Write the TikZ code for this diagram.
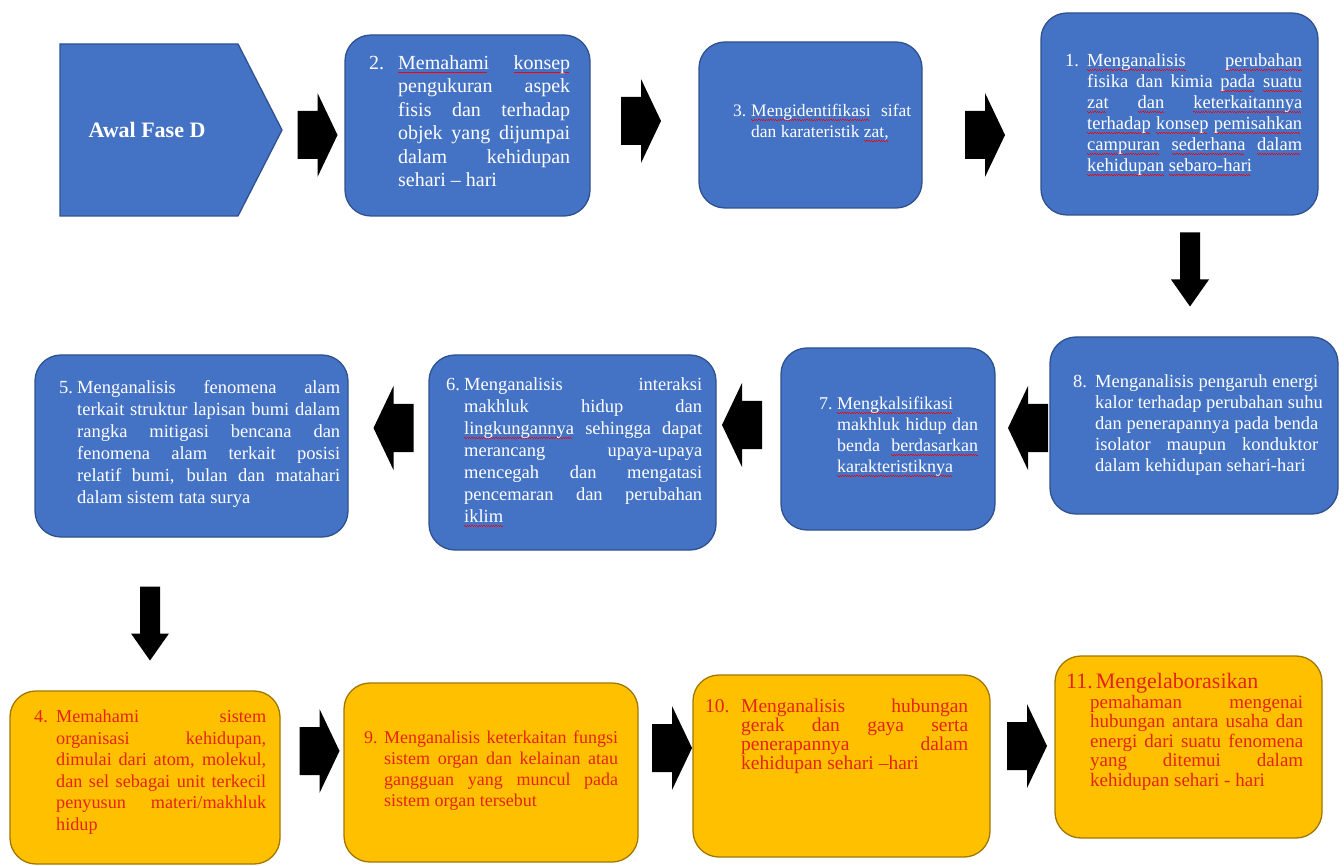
\documentclass[tikz,border=0pt]{standalone}
\usepackage{fontspec}
\setmainfont{Liberation Serif}
\newfontfamily\tnr{Liberation Serif}
\usetikzlibrary{calc}
\definecolor{boxblue}{RGB}{68,114,196}
\definecolor{blueedge}{RGB}{47,82,143}
\definecolor{boxyellow}{RGB}{255,192,0}
\definecolor{yellowedge}{RGB}{160,120,0}
\definecolor{txtred}{RGB}{230,36,12}
\newlength\hangw
\newlength\boxw
\newsavebox\sqbox
\newcommand\sq[1]{\sbox\sqbox{#1}\rlap{\textcolor{red}{\hbox to\wd\sqbox{\leaders\hbox{\rule[-3.4pt]{1.2pt}{0.9pt}\rule[-4.3pt]{1.2pt}{0.9pt}}\hfill}}}\usebox\sqbox}
\newcommand\FL[2]{\hbox to\boxw{\hbox to\hangw{#1\hfil}\spaceskip=.25em plus 1fil\xspaceskip=\spaceskip #2}}
\newcommand\FN[2]{\hbox{\hbox to\hangw{#1\hfil}#2}}
\newcommand\JL[1]{\hbox to\boxw{\hskip\hangw\spaceskip=.25em plus 1fil\xspaceskip=\spaceskip #1}}
\newcommand\LL[1]{\hbox{\hskip\hangw #1}}
\newcommand\tb[5]{\parbox{#1}{\tnr\fontsize{#3}{#4}\selectfont\setlength\boxw{#1}\setlength\hangw{#2}#5}}
\tikzset{
  bbox/.style={draw=blueedge, fill=boxblue, line width=1.3pt, rounded corners=26pt, inner sep=0pt},
  ybox/.style={draw=yellowedge, fill=boxyellow, line width=1.3pt, rounded corners=26pt, inner sep=0pt},
  wtxt/.style={text=white, inner sep=0pt, anchor=west},
  rtxt/.style={text=txtred, inner sep=0pt, anchor=west},
  rarrow/.pic={\fill[black] (-20,-24) -- (0,-24) -- (0,-42) -- (20,0) -- (0,42) -- (0,24) -- (-20,24) -- cycle;},
  darrow/.pic={\fill[black] (-10,-37) -- (10,-37) -- (10,10) -- (19,10) -- (0,37) -- (-19,10) -- (-10,10) -- cycle;}
}
\begin{document}
\begin{tikzpicture}[x=1pt,y=-1pt]
\fill[white] (0,0) rectangle (1344,866);
\useasboundingbox (0,0) rectangle (1344,866);

% ---------- row 1 ----------
\filldraw[draw=blueedge, fill=boxblue, line width=1.3pt] (60,44) -- (238,44) -- (282,130) -- (238,216) -- (60,216) -- cycle;
\node[text=white, inner sep=0pt, font=\tnr\bfseries\fontsize{22}{26}\selectfont] (awal) at (147,130) {Awal Fase D};

\node[bbox, minimum width=245pt, minimum height=181pt] (b2) at (467.5,125.5) {};
\node[bbox, minimum width=223pt, minimum height=166pt] (b3) at (810.5,125) {};
\node[bbox, minimum width=277pt, minimum height=202pt] (b1) at (1179.5,114) {};

\node[wtxt] (t2) at (369,121) {\tb{201pt}{29pt}{20}{23.5}{%
  \FL{2.}{\sq{Memahami} \sq{konsep}}
  \JL{pengukuran aspek}
  \JL{fisis dan terhadap}
  \JL{objek yang dijumpai}
  \JL{dalam kehidupan}
  \LL{sehari – hari}}};

\node[wtxt] (t3) at (733,123) {\tb{178pt}{18pt}{17.5}{20.5}{%
  \FL{3.}{\sq{Mengidentifikasi} sifat}
  \LL{dan karateristik \sq{zat,}}}};

\node[wtxt] (t1) at (1065,115) {\tb{237pt}{22pt}{18.5}{21}{%
  \FL{1.}{\sq{Menganalisis} \sq{perubahan}}
  \JL{fisika dan kimia \sq{pada} \sq{suatu}}
  \JL{\sq{zat} \sq{dan} \sq{keterkaitannya}}
  \JL{\sq{terhadap} \sq{konsep} \sq{pemisahkan}}
  \JL{\sq{campuran} \sq{sederhana} \sq{dalam}}
  \LL{\sq{kehidupan} \sq{sebaro-hari}}}};

\pic at (317.5,135) {rarrow};
\pic at (641,121) {rarrow};
\pic at (985,135) {rarrow};
\pic at (1190,269.5) {darrow};

% ---------- row 2 ----------
\node[bbox, minimum width=288pt, minimum height=177pt] (b8) at (1194,425.5) {};
\node[bbox, minimum width=214pt, minimum height=182pt] (b7) at (888,439) {};
\node[bbox, minimum width=287pt, minimum height=195pt] (b6) at (572.5,452.5) {};
\node[bbox, minimum width=313pt, minimum height=182pt] (b5) at (191.5,446) {};

\node[wtxt] (t8) at (1073,425) {\tb{245pt}{22pt}{18.5}{21}{%
  \FL{8.}{Menganalisis pengaruh energi}
  \JL{kalor terhadap perubahan suhu}
  \JL{dan penerapannya pada benda}
  \JL{isolator maupun konduktor}
  \LL{dalam kehidupan sehari-hari}}};

\node[wtxt] (t7) at (819,437) {\tb{159pt}{18pt}{18}{21}{%
  \FN{7.}{\sq{Mengkalsifikasi}}
  \JL{makhluk hidup dan}
  \JL{benda \sq{berdasarkan}}
  \LL{\sq{karakteristiknya}}}};

\node[wtxt] (t6) at (446,452) {\tb{256pt}{18pt}{18.5}{22}{%
  \FL{6.}{Menganalisis interaksi}
  \JL{makhluk hidup dan}
  \JL{\sq{lingkungannya} sehingga dapat}
  \JL{merancang upaya-upaya}
  \JL{mencegah dan mengatasi}
  \JL{pencemaran dan perubahan}
  \LL{\sq{iklim}}}};

\node[wtxt] (t5) at (59,444) {\tb{281pt}{18pt}{18.5}{22}{%
  \FL{5.}{Menganalisis fenomena alam}
  \JL{terkait struktur lapisan bumi dalam}
  \JL{rangka mitigasi bencana dan}
  \JL{fenomena alam terkait posisi}
  \JL{relatif bumi, bulan dan matahari}
  \LL{dalam sistem tata surya}}};

\pic[rotate=180] at (1028,428) {rarrow};
\pic[rotate=180] at (742,425) {rarrow};
\pic[rotate=180] at (393.5,428) {rarrow};
\pic at (150,623.5) {darrow};

% ---------- row 3 ----------
\node[ybox, minimum width=270pt, minimum height=173pt] (b4) at (145,777.5) {};
\node[ybox, minimum width=294pt, minimum height=179pt] (b9) at (491,772.5) {};
\node[ybox, minimum width=297pt, minimum height=182pt] (b10) at (841.5,766) {};
\node[ybox, minimum width=267pt, minimum height=182pt] (b11) at (1188.5,747) {};

\node[rtxt] (t4) at (34,772) {\tb{232pt}{22pt}{18.2}{21.5}{%
  \FL{4.}{Memahami sistem}
  \JL{organisasi kehidupan,}
  \JL{dimulai dari atom, molekul,}
  \JL{dan sel sebagai unit terkecil}
  \JL{penyusun materi/makhluk}
  \LL{hidup}}};

\node[rtxt] (t9) at (364,771) {\tb{254pt}{20pt}{18}{21}{%
  \FL{9.}{Menganalisis keterkaitan fungsi}
  \JL{sistem organ dan kelainan atau}
  \JL{gangguan yang muncul pada}
  \LL{sistem organ tersebut}}};

\node[rtxt] (t10) at (705,736) {\tb{263pt}{36pt}{19.5}{19}{%
  \FL{10.}{Menganalisis hubungan}
  \JL{gerak dan gaya serta}
  \JL{penerapannya dalam}
  \LL{kehidupan sehari –hari}}};

\node[rtxt] (t11) at (1066,732) {\tb{237pt}{24pt}{19}{19.5}{%
  \hbox{\fontsize{22}{24}\selectfont 11.\hspace{3pt}Mengelaborasikan}
  \JL{pemahaman mengenai}
  \JL{hubungan antara usaha dan}
  \JL{energi dari suatu fenomena}
  \JL{yang ditemui dalam}
  \LL{kehidupan sehari - hari}}};

\pic at (319.5,751) {rarrow};
\pic at (672,748) {rarrow};
\pic at (1027,746) {rarrow};
\end{tikzpicture}
\end{document}
